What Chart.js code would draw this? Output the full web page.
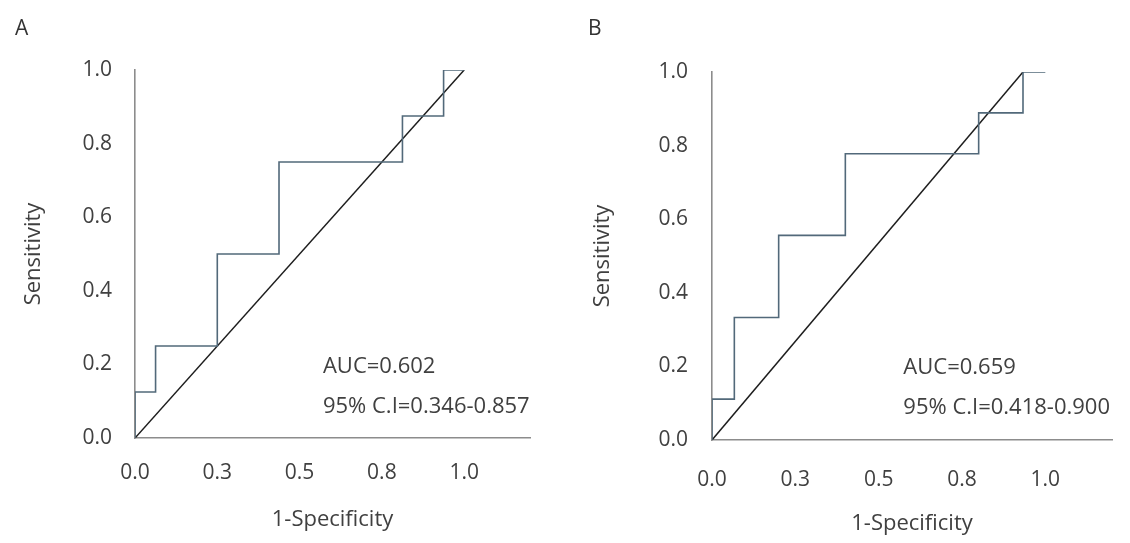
<!DOCTYPE html>
<html>
<head>
<meta charset="utf-8">
<script src="https://cdn.jsdelivr.net/npm/chart.js@4/dist/chart.umd.min.js"></script>
<style>
  html, body { margin: 0; padding: 0; background: #fff; }
  #page { position: relative; width: 1130px; height: 543px; overflow: hidden; }
  .panel { position: absolute; top: 0; width: 565px; height: 543px; }
  .tag { position: absolute; font-family: 'Open Sans', sans-serif; font-size: 21px; color: #333; line-height: 1; }
</style>
</head>
<body>
<div id="page">
  <div class="panel" style="left:0"><canvas id="chartA" width="565" height="543"></canvas></div>
  <div class="panel" style="left:565px"><canvas id="chartB" width="565" height="543"></canvas></div>
  <div class="tag" style="left:15px;top:17px">A</div>
  <div class="tag" style="left:588px;top:17px">B</div>
</div>
<script>
// tick labels (x ticks sit at quarters, shown with one decimal like the original)
const xTickValues = [0, 0.25, 0.5, 0.75, 1];
const xTickLabels = ['0.0', '0.3', '0.5', '0.8', '1.0'];
const yTickValues = [0, 0.2, 0.4, 0.6, 0.8, 1];
const yTickLabels = ['0.0', '0.2', '0.4', '0.6', '0.8', '1.0'];

// panel A - ROC curve (1-specificity, sensitivity)
const rocAFpr  = [0, 0, 0.0625, 0.0625, 0.25, 0.25, 0.4375, 0.4375, 0.8125, 0.8125, 0.9375, 0.9375, 1];
const rocASens = [0, 0.125, 0.125, 0.25, 0.25, 0.5, 0.5, 0.75, 0.75, 0.875, 0.875, 1, 1];
const refAFpr  = [0, 1];
const refASens = [0, 1];
const statsA = ['AUC=0.602', '95% C.I=0.346-0.857'];

// panel B
const rocBFpr  = [0, 0, 0.067, 0.067, 0.2, 0.2, 0.4, 0.4, 0.8, 0.8, 0.933, 0.933, 1];
const rocBSens = [0, 0.111, 0.111, 0.333, 0.333, 0.556, 0.556, 0.778, 0.778, 0.889, 0.889, 1, 1];
const refBFpr  = [0, 0.933];
const refBSens = [0, 1];
const statsB = ['AUC=0.659', '95% C.I=0.418-0.900'];

const FONT = "'Open Sans', sans-serif";
const TEXT = '#404040';

function toPoints(xs, ys) {
    return xs.map((x, i) => ({ x: x, y: ys[i] }));
}

// writes the AUC / CI lines at a spot given in data units
function statsPlugin(lines, at) {
    return {
        id: 'stats',
        afterDatasetsDraw(chart) {
            const { ctx, scales } = chart;
            ctx.save();
            ctx.font = '22px ' + FONT;
            ctx.fillStyle = TEXT;
            ctx.textBaseline = 'middle';
            ctx.textAlign = 'left';
            lines.forEach((t, i) => {
                ctx.fillText(t, scales.x.getPixelForValue(at.x), scales.y.getPixelForValue(at.y[i]));
            });
            ctx.restore();
        }
    };
}

function makeRoc(id, roc, ref, stats, lay) {
    const canvas = document.getElementById(id);
    new Chart(canvas, {
        type: 'scatter',
        data: {
            datasets: [
                {
                    data: roc,
                    showLine: true,
                    borderColor: '#52697a',
                    borderWidth: 1.6,
                    pointRadius: 0,
                    tension: 0
                },
                {
                    data: ref,
                    showLine: true,
                    borderColor: '#1e1e1e',
                    borderWidth: 1.5,
                    pointRadius: 0,
                    tension: 0
                }
            ]
        },
        options: {
            responsive: false,
            animation: false,
            events: [],
            layout: { padding: { left: 0, top: lay.top, right: lay.right, bottom: 0 } },
            scales: {
                x: {
                    type: 'linear',
                    min: 0,
                    max: 1.2,
                    afterFit: s => { s.height = lay.xHeight; },
                    afterBuildTicks: s => { s.ticks = xTickValues.map(v => ({ value: v })); },
                    ticks: {
                        padding: lay.xTickPad,
                        color: TEXT,
                        font: { family: FONT, size: 21 },
                        callback: (v) => xTickLabels[xTickValues.indexOf(v)]
                    },
                    grid: { display: true, drawOnChartArea: false, drawTicks: false },
                    border: { color: '#8c8c8c', width: 1.6 },
                    title: {
                        display: true,
                        text: '1-Specificity',
                        color: TEXT,
                        font: { family: FONT, size: 22 },
                        padding: { top: 0, bottom: lay.xTitlePad }
                    }
                },
                y: {
                    type: 'linear',
                    min: 0,
                    max: 1,
                    afterFit: s => { s.width = lay.yWidth; },
                    afterBuildTicks: s => { s.ticks = yTickValues.map(v => ({ value: v })); },
                    ticks: {
                        padding: lay.yTickPad,
                        color: TEXT,
                        font: { family: FONT, size: 21 },
                        callback: (v) => yTickLabels[yTickValues.indexOf(v)]
                    },
                    grid: { display: true, drawOnChartArea: false, drawTicks: false },
                    border: { color: '#8c8c8c', width: 1.6 },
                    title: {
                        display: true,
                        text: 'Sensitivity',
                        color: TEXT,
                        font: { family: FONT, size: 22 },
                        padding: { top: lay.yTitlePad, bottom: 0 }
                    }
                }
            },
            plugins: {
                legend: { display: false },
                tooltip: { enabled: false }
            }
        },
        plugins: [statsPlugin(stats, lay.stats)]
    });
}

makeRoc('chartA', toPoints(rocAFpr, rocASens), toPoints(refAFpr, refASens), statsA, {
    top: 70, right: 35, yWidth: 135, xHeight: 105,
    xTickPad: 22, xTitlePad: 10, yTickPad: 23, yTitlePad: 21,
    stats: { x: 0.571, y: [0.193, 0.084] }
});

makeRoc('chartB', toPoints(rocBFpr, rocBSens), toPoints(refBFpr, refBSens), statsB, {
    top: 72, right: 18, yWidth: 147, xHeight: 103,
    xTickPad: 27, xTitlePad: 6, yTickPad: 24, yTitlePad: 25,
    stats: { x: 0.574, y: [0.196, 0.087] }
});
</script>
</body>
</html>
